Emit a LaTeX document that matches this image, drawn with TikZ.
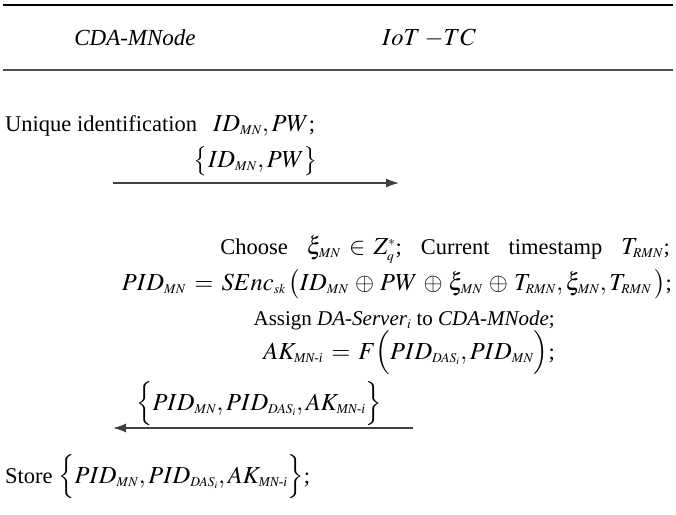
\documentclass[tikz,border=0pt]{standalone}
\usepackage{amsmath}
\usepackage{mathptmx}
\usepackage{fontspec}
\setmainfont{Liberation Serif}
\usetikzlibrary{arrows.meta}

% formulas are set a little larger than the words, with small scripts
\DeclareMathSizes{24.5}{24.5}{13.5}{10}
\newcommand{\fm}[1]{{\fontsize{24.5}{29}\selectfont
  \thickmuskip=6mu plus 2mu \medmuskip=4.5mu plus 2mu $#1$}}
\newcommand{\sub}[1]{\text{\itshape #1}}
\newcommand{\gap}{\hspace{19pt}}

\begin{document}
\begin{tikzpicture}[x=1pt,y=-1pt,
  txt/.style={inner sep=0pt, font=\fontsize{22.5}{27}\selectfont},
  head/.style={inner sep=0pt, font=\fontsize{23}{27}\selectfont\itshape},
  toprule/.style={line width=1.6pt, draw=black},
  midrule/.style={line width=1.2pt, draw=black!70},
  msg/.style={line width=1.3pt, draw=black!75, -{Latex[length=13pt,width=9pt]}}]
\useasboundingbox (0,0) rectangle (676,514);

% table head
\coordinate (t1) at (3,5);
\coordinate (t2) at (673,5);
\coordinate (h1) at (3,70);
\coordinate (h2) at (673,70);
\draw[toprule] (t1) -- (t2);
\draw[midrule] (h1) -- (h2);
\node[head] (cda) at (135,38) {CDA-MNode};
\node[head] (tc)  at (429,38) {\fm{IoT\mskip3mu{-}TC}};

% registration request
\node[txt, anchor=base west] (reg) at (5,131) {Unique identification\hspace{16pt}\fm{ID_{MN},PW};};
\node[txt] (m1) at (256,161) {\fm{\bigl\{ID_{MN},PW\bigr\}}};
\coordinate (a1s) at (113,183);
\coordinate (a1e) at (399,183);
\draw[msg] (a1s) -- (a1e);

% server side computations
\node[txt, anchor=base east] (c1) at (670,254)
  {Choose\gap\fm{\xi_{MN}\in Z_q^{*}};\gap Current\gap timestamp\gap\fm{T_{RMN}};};
\node[txt, anchor=base east] (c2) at (672,290)
  {\fm{PID_{MN}=SEnc_{sk}\,\bigl(ID_{MN}\oplus PW\oplus\xi_{MN}\oplus T_{RMN},\xi_{MN},T_{RMN}\,\bigr)};};
\node[txt, anchor=base east, font=\fontsize{21}{25}\selectfont] (c3) at (555,325)
  {Assign \textit{DA-Server}\fm{_i} to \textit{CDA-MNode};};
\node[txt, anchor=base east] (c4) at (555,359)
  {\fm{AK_{\sub{MN-i}}=F\Bigl(PID_{DAS_i},PID_{MN}\Bigr)};};

% reply
\node[txt] (m2) at (259,404) {\fm{\Bigl\{PID_{MN},PID_{DAS_i},AK_{\sub{MN-i}}\Bigr\}}};
\coordinate (a2s) at (413,428);
\coordinate (a2e) at (113,428);
\draw[msg] (a2s) -- (a2e);

\node[txt, anchor=base west] (st) at (5,483)
  {Store \fm{\Bigl\{PID_{MN},PID_{DAS_i},AK_{\sub{MN-i}}\Bigr\}};};
\end{tikzpicture}
\end{document}
